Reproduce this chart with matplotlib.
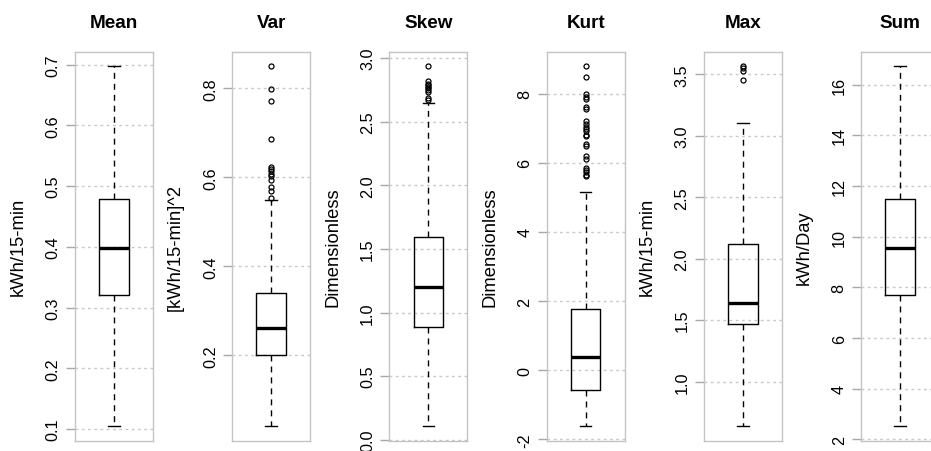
import numpy as np
import matplotlib
matplotlib.use("Agg")
import matplotlib.pyplot as plt

plt.rcParams['font.family'] = ['Liberation Sans', 'DejaVu Sans']

# daily load statistics, one boxplot per feature
features = ["Mean", "Var", "Skew", "Kurt", "Max", "Sum"]
units = ["kWh/15-min", "[kWh/15-min]^2", "Dimensionless", "Dimensionless",
         "kWh/15-min", "kWh/Day"]

whisker_low = [0.105, 0.041, 0.108, -1.62, 0.637, 2.52]
quart_1 = [0.320, 0.200, 0.883, -0.58, 1.467, 7.69]
median = [0.398, 0.262, 1.199, 0.39, 1.643, 9.56]
quart_3 = [0.479, 0.339, 1.592, 1.78, 2.117, 11.49]
whisker_high = [0.697, 0.548, 2.648, 5.16, 3.104, 16.72]

out_mean = []
out_var = [0.849, 0.798, 0.771, 0.685, 0.624, 0.618, 0.613, 0.607, 0.602,
           0.593, 0.578, 0.570, 0.553]
out_skew = [2.935, 2.822, 2.797, 2.786, 2.774, 2.762, 2.75, 2.73, 2.684, 2.672]
out_kurt = [8.79, 8.48, 7.99, 7.90, 7.85, 7.62, 7.57, 7.20, 7.13, 7.05, 6.98,
            6.91, 6.81, 6.77, 6.53, 6.48, 6.19, 6.11, 5.85, 5.78, 5.72, 5.66,
            5.61]
out_max = [3.565, 3.55, 3.53, 3.455]
out_sum = []
outliers = [out_mean, out_var, out_skew, out_kurt, out_max, out_sum]

yticks = [
    [0.1, 0.2, 0.3, 0.4, 0.5, 0.6, 0.7],
    [0.2, 0.4, 0.6, 0.8],
    [0.0, 0.5, 1.0, 1.5, 2.0, 2.5, 3.0],
    [-2, 0, 2, 4, 6, 8],
    [1.0, 1.5, 2.0, 2.5, 3.0, 3.5],
    [2, 4, 6, 8, 10, 12, 14, 16],
]
ytick_labels = [
    ["0.1", "0.2", "0.3", "0.4", "0.5", "0.6", "0.7"],
    ["0.2", "0.4", "0.6", "0.8"],
    ["0.0", "0.5", "1.0", "1.5", "2.0", "2.5", "3.0"],
    ["-2", "0", "2", "4", "6", "8"],
    ["1.0", "1.5", "2.0", "2.5", "3.0", "3.5"],
    ["2", "4", "6", "8", "10", "12", "14", "16"],
]

W, H = 931, 452
fig = plt.figure(figsize=(W / 100, H / 100), dpi=100)

frame_col = "#c4c4c4"
grid_col = "#c8c8c8"

for i, name in enumerate(features):
    left = 75 + 157.2 * i
    ax = fig.add_axes([left / W, (H - 441.5) / H, 78 / W, 388.5 / H])

    stats = [dict(med=median[i], q1=quart_1[i], q3=quart_3[i],
                  whislo=whisker_low[i], whishi=whisker_high[i],
                  fliers=outliers[i])]
    ax.bxp(stats, positions=[1], widths=0.377, capwidths=0.15,
           patch_artist=False, zorder=3,
           boxprops=dict(color="black", lw=1.0),
           medianprops=dict(color="black", lw=2.4, solid_capstyle="butt"),
           whiskerprops=dict(color="black", lw=1.0, linestyle=(0, (4.3, 3.6))),
           capprops=dict(color="black", lw=1.0),
           flierprops=dict(marker="o", markersize=3.6, markerfacecolor="none",
                           markeredgecolor="black", markeredgewidth=0.9))

    # R-style range: data extent padded by 4%
    vals = [whisker_low[i], whisker_high[i]] + outliers[i]
    lo, hi = min(vals), max(vals)
    pad = 0.04 * (hi - lo)
    ax.set_ylim(lo - pad, hi + pad)
    ax.set_xlim(0.5, 1.5)

    ax.set_yticks(yticks[i], ytick_labels[i])
    ax.set_xticks([])
    ax.yaxis.grid(True, linestyle=(0, (2, 2.5)), color=grid_col, lw=1.0)
    ax.set_axisbelow(True)
    ax.tick_params(axis="y", length=6.3, width=1.0, color="#a8a8a8",
                   labelsize=11.7, pad=4, labelrotation=90)
    plt.setp(ax.get_yticklabels(), va="center")
    for s in ax.spines.values():
        s.set_color(frame_col)
        s.set_linewidth(1.0)

    ax.set_ylabel(units[i], fontsize=13.2, va="center")
    ax.yaxis.set_label_coords(-56.7 / 78, 0.5)
    ax.set_title(name, fontsize=13.6, fontweight="bold", pad=18)

fig.savefig("out.png", dpi=100)
